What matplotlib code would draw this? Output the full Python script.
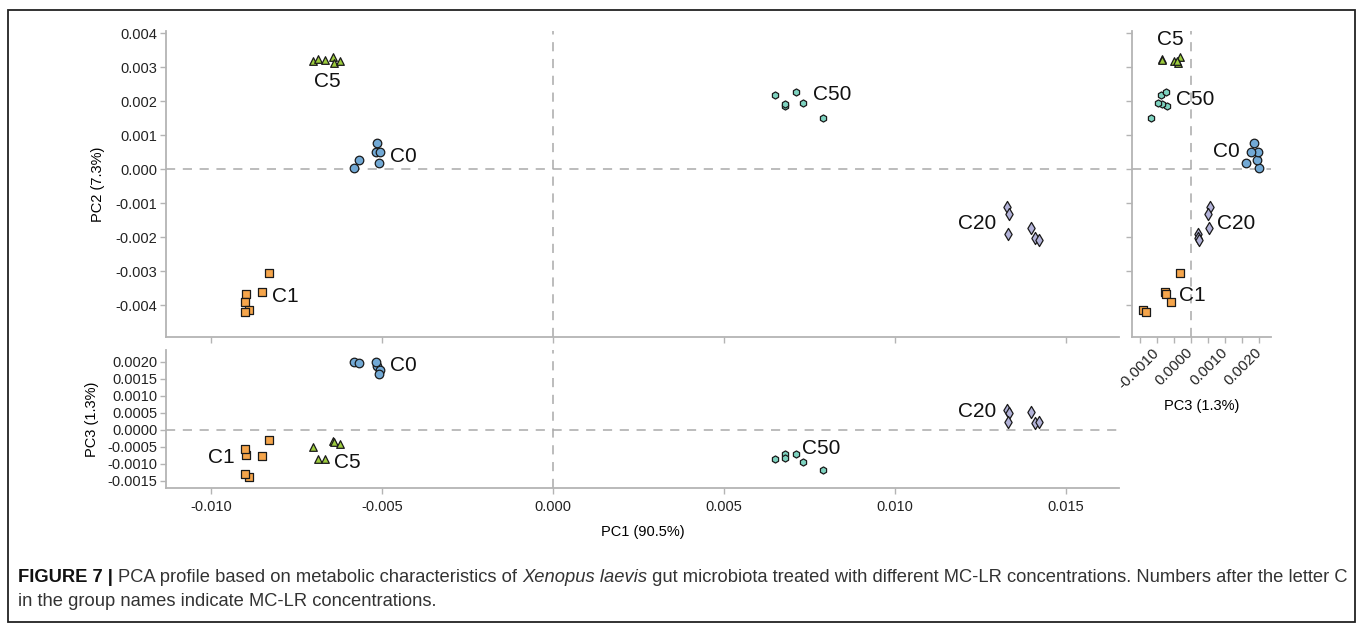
import matplotlib
matplotlib.use("Agg")
import matplotlib.pyplot as plt
from matplotlib.patches import Rectangle
from matplotlib.ticker import MultipleLocator, FixedLocator, FuncFormatter

plt.rcParams["font.family"] = ["Liberation Sans", "DejaVu Sans"]
plt.rcParams["axes.unicode_minus"] = False

# PCA scores
groups = ["C0", "C1", "C5", "C20", "C50"]

c0_pc1 = [-0.00581, -0.00567, -0.00513, -0.00518, -0.00506, -0.00508]
c0_pc2 = [0.00004, 0.00027, 0.00078, 0.00050, 0.00050, 0.00018]
c0_pc3 = [0.00199, 0.00195, 0.00186, 0.00198, 0.00176, 0.00163]

c1_pc1 = [-0.00830, -0.00851, -0.00898, -0.00900, -0.00890, -0.00901]
c1_pc2 = [-0.00307, -0.00363, -0.00367, -0.00391, -0.00415, -0.00421]
c1_pc3 = [-0.00031, -0.00076, -0.00074, -0.00057, -0.00139, -0.00131]

c5_pc1 = [-0.00701, -0.00686, -0.00665, -0.00642, -0.00639, -0.00623]
c5_pc2 = [0.00319, 0.00324, 0.00320, 0.00329, 0.00313, 0.00317]
c5_pc3 = [-0.00050, -0.00085, -0.00085, -0.00033, -0.00037, -0.00042]

c20_pc1 = [0.01327, 0.01334, 0.01331, 0.01398, 0.01409, 0.01422]
c20_pc2 = [-0.00111, -0.00133, -0.00192, -0.00174, -0.00204, -0.00209]
c20_pc3 = [0.00057, 0.00050, 0.00022, 0.00052, 0.00020, 0.00024]

c50_pc1 = [0.00650, 0.00679, 0.00679, 0.00711, 0.00730, 0.00790]
c50_pc2 = [0.00217, 0.00185, 0.00190, 0.00226, 0.00193, 0.00151]
c50_pc3 = [-0.00087, -0.00071, -0.00084, -0.00072, -0.00095, -0.00117]

scores = {
    "C0": (c0_pc1, c0_pc2, c0_pc3),
    "C1": (c1_pc1, c1_pc2, c1_pc3),
    "C5": (c5_pc1, c5_pc2, c5_pc3),
    "C20": (c20_pc1, c20_pc2, c20_pc3),
    "C50": (c50_pc1, c50_pc2, c50_pc3),
}

style = {
    "C0": dict(marker="o", color="#72a9d5", s=38),
    "C1": dict(marker="s", color="#f5a54b", s=36),
    "C5": dict(marker="^", color="#9ccb3d", s=30),
    "C20": dict(marker="d", color="#b3b3d9", s=38),
    "C50": dict(marker="h", color="#7ed3c0", s=26),
}

grey = "#aaaaaa"
xlim = (-0.01132, 0.01655)
ylim = (-0.00493, 0.00406)
zlim = (-0.00172, 0.00234)

fig = plt.figure(figsize=(13.63, 6.29), dpi=100)
ax_main = fig.add_axes([0.1216, 0.4647, 0.6994, 0.4860])
ax_bot = fig.add_axes([0.1216, 0.2237, 0.6994, 0.2199])
ax_side = fig.add_axes([0.8307, 0.4647, 0.1015, 0.4860])


def style_axes(ax):
    for side in ["top", "right"]:
        ax.spines[side].set_visible(False)
    for side in ["left", "bottom"]:
        ax.spines[side].set_color("#b4b4b4")
        ax.spines[side].set_linewidth(1.3)
    ax.tick_params(which="both", direction="out", length=4, width=1,
                   color="#b4b4b4", labelsize=10.5, labelcolor="#222222", pad=2)
    ax.set_facecolor("none")


def dashed(ax, kind, val):
    kw = dict(color=grey, lw=1.1, dashes=(6, 5), zorder=1)
    if kind == "h":
        ax.axhline(val, **kw)
    else:
        ax.axvline(val, **kw)


for g in groups:
    pc1, pc2, pc3 = scores[g]
    st = style[g]
    kw = dict(marker=st["marker"], c=st["color"], s=st["s"],
              edgecolors="#1a1a1a", linewidths=0.9, zorder=3)
    ax_main.scatter(pc1, pc2, **kw)
    ax_bot.scatter(pc1, pc3, **kw)
    ax_side.scatter(pc3, pc2, **kw)

# main panel: PC1 vs PC2
style_axes(ax_main)
ax_main.set_xlim(xlim)
ax_main.set_ylim(ylim)
ax_main.xaxis.set_major_locator(MultipleLocator(0.005))
ax_main.tick_params(axis="x", labelbottom=False)
ax_main.yaxis.set_major_locator(FixedLocator([i * 0.001 for i in range(-4, 5)]))
ax_main.yaxis.set_major_formatter(FuncFormatter(lambda v, p: f"{v:.3f}"))
ax_main.set_ylabel("PC2 (7.3%)", fontsize=10.5, labelpad=8)
dashed(ax_main, "h", 0)
dashed(ax_main, "v", 0)

lab = dict(fontsize=15, color="#111111", va="center", zorder=4)
ax_main.text(-0.00659, 0.00257, "C5", ha="center", **lab)
ax_main.text(-0.00475, 0.00036, "C0", ha="left", **lab)
ax_main.text(-0.00820, -0.00374, "C1", ha="left", **lab)
ax_main.text(0.00760, 0.00218, "C50", ha="left", **lab)
ax_main.text(0.01297, -0.00160, "C20", ha="right", **lab)

# bottom panel: PC1 vs PC3
style_axes(ax_bot)
ax_bot.set_xlim(xlim)
ax_bot.set_ylim(zlim)
ax_bot.xaxis.set_major_locator(MultipleLocator(0.005))
ax_bot.xaxis.set_major_formatter(FuncFormatter(lambda v, p: f"{v:.3f}"))
ax_bot.yaxis.set_major_locator(FixedLocator([i * 0.0005 for i in range(-3, 5)]))
ax_bot.yaxis.set_major_formatter(FuncFormatter(lambda v, p: f"{v:.4f}"))
ax_bot.tick_params(axis="x", pad=4.5)
ax_bot.set_ylabel("PC3 (1.3%)", fontsize=10.5, labelpad=6)
ax_bot.set_xlabel("PC1 (90.5%)", fontsize=10.5, labelpad=8)
dashed(ax_bot, "h", 0)
dashed(ax_bot, "v", 0)

ax_bot.text(-0.00477, 0.00187, "C0", ha="left", **lab)
ax_bot.text(-0.00930, -0.00082, "C1", ha="right", **lab)
ax_bot.text(-0.00639, -0.00096, "C5", ha="left", **lab)
ax_bot.text(0.00728, -0.00055, "C50", ha="left", **lab)
ax_bot.text(0.01297, 0.00053, "C20", ha="right", **lab)

# side panel: PC3 vs PC2
style_axes(ax_side)
ax_side.set_xlim(zlim)
ax_side.set_ylim(ylim)
ax_side.yaxis.set_major_locator(FixedLocator([i * 0.001 for i in range(-4, 5)]))
ax_side.tick_params(axis="y", labelleft=False)
ax_side.xaxis.set_major_locator(FixedLocator([-0.001, 0.0, 0.001, 0.002]))
ax_side.xaxis.set_minor_locator(FixedLocator([-0.0015, -0.0005, 0.0005, 0.0015]))
ax_side.xaxis.set_major_formatter(FuncFormatter(lambda v, p: f"{v:.4f}"))
ax_side.tick_params(axis="x", labelsize=10.8, pad=6)
for t in ax_side.get_xticklabels():
    t.set_rotation(45)
    t.set_ha("right")
    t.set_va("center")
    t.set_rotation_mode("anchor")
ax_side.set_xlabel("PC3 (1.3%)", fontsize=10.5, labelpad=5)
dashed(ax_side, "h", 0)
dashed(ax_side, "v", 0)

ax_side.text(-0.00061, 0.00381, "C5", ha="center", **lab)
ax_side.text(-0.00043, 0.00206, "C50", ha="left", **lab)
ax_side.text(0.00143, 0.00051, "C0", ha="right", **lab)
ax_side.text(0.00078, -0.00160, "C20", ha="left", **lab)
ax_side.text(-0.00034, -0.00371, "C1", ha="left", **lab)

# frame around the whole figure
fig.patches.append(Rectangle((8 / 1363, 1 - 622 / 629), 1347 / 1363, 612 / 629,
                             transform=fig.transFigure, fill=False,
                             edgecolor="#222222", lw=1.3))

# caption with mixed bold / italic pieces
renderer = fig.canvas.get_renderer()
cap_size = 13.2
line1 = [
    ("FIGURE 7 | ", dict(fontweight="bold", color="#111111")),
    ("PCA profile based on metabolic characteristics of ", dict(color="#333333")),
    ("Xenopus laevis", dict(style="italic", color="#333333")),
    (" gut microbiota treated with different MC-LR concentrations. Numbers after the letter C",
     dict(color="#333333")),
]
x = 18 / 1363
y1 = 1 - 577 / 629
for txt, kw in line1:
    t = fig.text(x, y1, txt, fontsize=cap_size, va="center", ha="left", **kw)
    bb = t.get_window_extent(renderer=renderer)
    x += bb.width / fig.bbox.width
fig.text(18 / 1363, 1 - 601 / 629, "in the group names indicate MC-LR concentrations.",
         fontsize=cap_size, va="center", ha="left", color="#333333")

fig.savefig("out.png", dpi=100)
